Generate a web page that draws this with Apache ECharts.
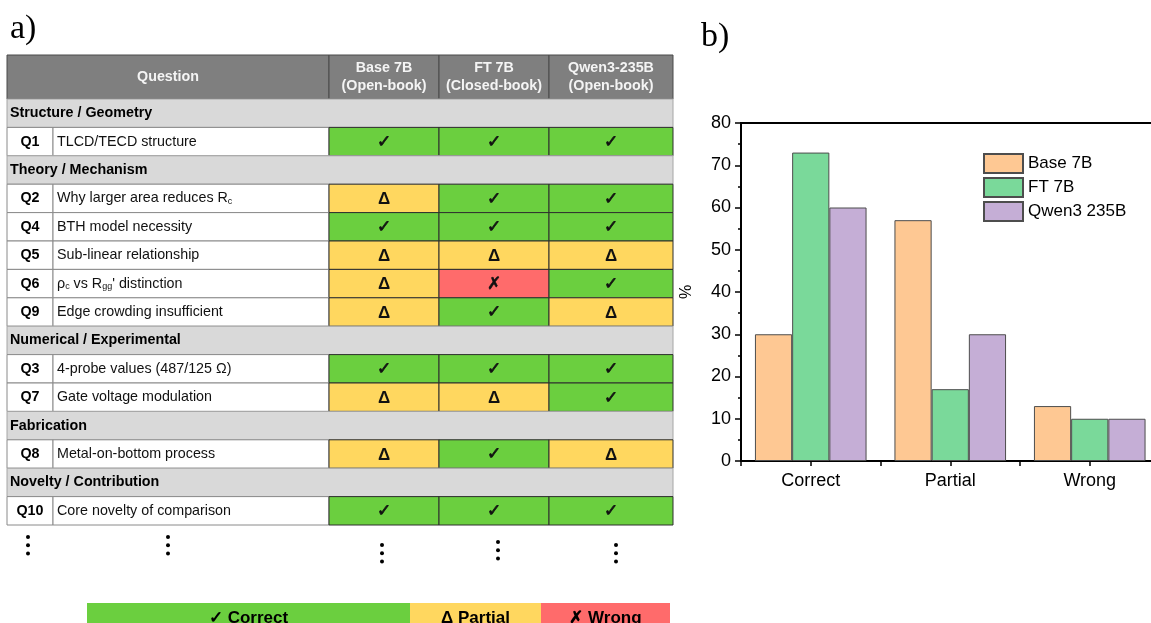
<!DOCTYPE html>
<html>
<head>
<meta charset="utf-8">
<script src="https://cdn.jsdelivr.net/npm/echarts@6/dist/echarts.min.js"></script>
<style>
  html, body { margin: 0; padding: 0; background: #fff; }
  #main { width: 1151px; height: 623px; }
</style>
</head>
<body>
<div id="main"></div>
<script>
// ---------- a) question-by-question outcome table ----------
const modelNames = ['Base 7B', 'FT 7B', 'Qwen3-235B'];
const modelModes = ['(Open-book)', '(Closed-book)', '(Open-book)'];

// '' in rowIds marks a topic row that spans the whole table
const rowIds = ['', 'Q1', '', 'Q2', 'Q4', 'Q5', 'Q6', 'Q9', '', 'Q3', 'Q7', '', 'Q8', '', 'Q10'];
const rowTexts = [
  'Structure / Geometry',
  'TLCD/TECD structure',
  'Theory / Mechanism',
  'Why larger area reduces R{s|c}',
  'BTH model necessity',
  'Sub-linear relationship',
  'ρ{s|c} vs R{s|gg}\' distinction',
  'Edge crowding insufficient',
  'Numerical / Experimental',
  '4-probe values (487/125 Ω)',
  'Gate voltage modulation',
  'Fabrication',
  'Metal-on-bottom process',
  'Novelty / Contribution',
  'Core novelty of comparison'
];
// C = correct, P = partial, W = wrong
const baseResults = ['', 'C', '', 'P', 'C', 'P', 'P', 'P', '', 'C', 'P', '', 'P', '', 'C'];
const ftResults   = ['', 'C', '', 'C', 'C', 'P', 'W', 'C', '', 'C', 'P', '', 'C', '', 'C'];
const qwenResults = ['', 'C', '', 'C', 'C', 'P', 'C', 'P', '', 'C', 'C', '', 'P', '', 'C'];

// ---------- b) share of outcomes per model ----------
const outcomeCats = ['Correct', 'Partial', 'Wrong'];
const barSeriesNames = ['Base 7B', 'FT 7B', 'Qwen3 235B'];
const baseShares = [30, 57, 13];
const ftShares   = [73, 17, 10];
const qwenShares = [60, 30, 10];

// ---------- layout & style ----------
const SANS = '"Liberation Sans", Arial, sans-serif';
const SERIF = '"Liberation Serif", "Times New Roman", serif';
const SYM = '"DejaVu Sans", sans-serif';
const FS = 14.3;                                  // table text size
const colEdges = [0, 46, 322, 432, 542, 666];   // table column boundaries (table units)
const tableWidth = 666;
const resultLook = {
  C: { fill: '#6bcf3f', mark: '✓', font: SYM, size: 17, stroke: 0.7 },
  P: { fill: '#ffd75f', mark: 'Δ', font: SANS, size: 17, stroke: 0 },
  W: { fill: '#ff6b6b', mark: '✗', font: SYM, size: 17, stroke: 0.5 }
};
const resultRows = [baseResults, ftResults, qwenResults];
const barColors = ['#fec893', '#7ad99a', '#c5aed6'];

function xAt(api, edge, row) { return api.coord([colEdges[edge], row])[0]; }

// header cells: 0 = "Question" (spans id + text columns), 1..3 = models
function renderHeader(params, api) {
  const c = api.value(0);
  const yc = api.coord([0, 0])[1];
  const h = api.size([0, 1])[1];
  const e0 = c === 0 ? 0 : c + 1;
  const e1 = c === 0 ? 2 : c + 2;
  const x0 = xAt(api, e0, 0), x1 = xAt(api, e1, 0);
  const label = c === 0 ? 'Question' : modelNames[c - 1] + '\n' + modelModes[c - 1];
  return {
    type: 'group',
    children: [
      { type: 'rect', shape: { x: x0, y: yc - h / 2, width: x1 - x0, height: h },
        style: { fill: '#7f7f7f', stroke: '#4a4a4a', lineWidth: 1 } },
      { type: 'text', style: { text: label, x: (x0 + x1) / 2, y: yc, align: 'center', verticalAlign: 'middle',
        fill: '#f4f4f4', fontFamily: SANS, fontWeight: 'bold', fontSize: FS, lineHeight: 18 } }
    ]
  };
}

function renderBody(params, api) {
  const c = api.value(0), r = api.value(1);
  const yc = api.coord([0, r])[1];
  const h = api.size([0, 1])[1];
  const top = yc - h / 2;
  if (rowIds[r] === '') {
    const x0 = xAt(api, 0, r), x1 = xAt(api, 5, r);
    return {
      type: 'group',
      children: [
        { type: 'rect', shape: { x: x0, y: top, width: x1 - x0, height: h },
          style: { fill: '#d9d9d9', stroke: '#a6a6a6', lineWidth: 1 } },
        { type: 'text', style: { text: rowTexts[r], x: x0 + 3, y: yc, align: 'left', verticalAlign: 'middle',
          fill: '#000', fontFamily: SANS, fontWeight: 'bold', fontSize: FS } }
      ]
    };
  }
  const x0 = xAt(api, c, r), x1 = xAt(api, c + 1, r);
  const rect = { x: x0, y: top, width: x1 - x0, height: h };
  if (c === 0) {
    return { type: 'group', children: [
      { type: 'rect', shape: rect, style: { fill: '#fff', stroke: '#8a8a8a', lineWidth: 1 } },
      { type: 'text', style: { text: rowIds[r], x: (x0 + x1) / 2, y: yc, align: 'center', verticalAlign: 'middle',
        fill: '#000', fontFamily: SANS, fontWeight: 'bold', fontSize: FS } }
    ] };
  }
  if (c === 1) {
    return { type: 'group', children: [
      { type: 'rect', shape: rect, style: { fill: '#fff', stroke: '#8a8a8a', lineWidth: 1 } },
      { type: 'text', style: { text: rowTexts[r], x: x0 + 4, y: yc, align: 'left', verticalAlign: 'middle',
        fill: '#111', fontFamily: SANS, fontSize: FS,
        rich: { s: { fontFamily: SANS, fontSize: 9, fill: '#111', padding: [6, 0, 0, 0] } } } }
    ] };
  }
  const look = resultLook[resultRows[c - 2][r]];
  return { type: 'group', children: [
    { type: 'rect', shape: rect, style: { fill: look.fill, stroke: '#2f2f2f', lineWidth: 1 } },
    { type: 'text', style: { text: look.mark, x: (x0 + x1) / 2, y: yc + 1, align: 'center', verticalAlign: 'middle',
      fill: '#111', stroke: look.stroke ? '#111' : null, lineWidth: look.stroke,
      fontFamily: look.font, fontWeight: 'bold', fontSize: look.size } }
  ] };
}

const headerData = [[0, 0], [1, 0], [2, 0], [3, 0]];
const bodyData = [];
rowIds.forEach((id, r) => {
  if (id === '') bodyData.push([0, r]);
  else for (let c = 0; c < 5; c++) bodyData.push([c, r]);
});

// small graphic helpers: vertical ellipsis, bottom key, panel tags
function vdots(x, y) {
  return [0, 1, 2].map(i => ({ type: 'circle', shape: { cx: x, cy: y + i * 8.3, r: 2 }, style: { fill: '#000' } }));
}
const keyItems = [
  { x: 87, w: 323, fill: '#6bcf3f', text: '✓ Correct' },
  { x: 410, w: 131, fill: '#ffd75f', text: 'Δ Partial' },
  { x: 541, w: 129, fill: '#ff6b6b', text: '✗ Wrong' }
];
const graphics = [
  { type: 'text', left: 10, top: 12, style: { text: 'a)', fontFamily: SERIF, fontSize: 34, fill: '#000' } },
  { type: 'text', left: 701, top: 20, style: { text: 'b)', fontFamily: SERIF, fontSize: 34, fill: '#000' } }
];
[[28, 537], [168, 537], [382, 545], [498, 542], [616, 545]].forEach(p => vdots(p[0], p[1]).forEach(d => graphics.push(d)));
keyItems.forEach(k => {
  graphics.push({ type: 'rect', shape: { x: k.x, y: 603, width: k.w, height: 30 }, style: { fill: k.fill } });
  graphics.push({ type: 'text', style: { text: k.text, x: k.x + k.w / 2, y: 618, align: 'center', verticalAlign: 'middle',
    fontFamily: SANS, fontWeight: 'bold', fontSize: 17, fill: '#000' } });
});

const chart = echarts.init(document.getElementById('main'));
const option = {
  animation: false,
  backgroundColor: '#fff',
  grid: [
    { left: 7, top: 55, width: 666, height: 44, outerBoundsMode: 'none' },
    { left: 7, top: 99, width: 666, height: 426, outerBoundsMode: 'none' },
    // the plot frame runs past the right edge of the page
    { left: 741, top: 123, width: 418.5, height: 338, outerBoundsMode: 'none',
      show: true, borderColor: '#000', borderWidth: 2 }
  ],
  xAxis: [
    { gridIndex: 0, type: 'value', min: 0, max: tableWidth, show: false },
    { gridIndex: 1, type: 'value', min: 0, max: tableWidth, show: false },
    { gridIndex: 2, type: 'category', data: outcomeCats, position: 'bottom',
      axisLine: { lineStyle: { color: '#000', width: 2 } },
      axisTick: { show: true, length: 5, lineStyle: { color: '#000', width: 1.5 } },
      axisLabel: { show: false } },
    { gridIndex: 2, type: 'category', data: outcomeCats, position: 'bottom',
      axisLine: { show: false },
      axisTick: { show: true, alignWithLabel: true, length: 5, lineStyle: { color: '#000', width: 1.5 } },
      axisLabel: { color: '#000', fontFamily: SANS, fontSize: 18, margin: 11 } }
  ],
  yAxis: [
    { gridIndex: 0, type: 'category', data: ['header'], show: false },
    { gridIndex: 1, type: 'category', data: rowIds.map((id, i) => id || 'topic' + i), inverse: true, show: false },
    { gridIndex: 2, type: 'value', min: 0, max: 80, interval: 10,
      name: '%', nameLocation: 'middle', nameGap: 46, nameRotate: 90,
      nameTextStyle: { color: '#000', fontFamily: SANS, fontSize: 16 },
      axisLine: { show: true, lineStyle: { color: '#000', width: 2 } },
      axisTick: { show: true, length: 6, lineStyle: { color: '#000', width: 1.5 } },
      minorTick: { show: true, splitNumber: 2, length: 3, lineStyle: { color: '#000', width: 1.5 } },
      splitLine: { show: false },
      axisLabel: { color: '#000', fontFamily: SANS, fontSize: 18, margin: 10 } }
  ],
  legend: {
    data: barSeriesNames,
    orient: 'vertical',
    left: 983, top: 153,
    padding: 0,
    itemWidth: 39, itemHeight: 19, itemGap: 3,
    icon: 'rect',
    textStyle: { color: '#000', fontFamily: SANS, fontSize: 17 }
  },
  series: [
    { type: 'custom', xAxisIndex: 0, yAxisIndex: 0, renderItem: renderHeader, data: headerData, silent: true },
    { type: 'custom', xAxisIndex: 1, yAxisIndex: 1, renderItem: renderBody, data: bodyData, silent: true },
    { name: barSeriesNames[0], type: 'bar', xAxisIndex: 2, yAxisIndex: 2, data: baseShares,
      barGap: '0%', barCategoryGap: '20%',
      itemStyle: { color: barColors[0], borderColor: '#4d4d4d', borderWidth: 1 } },
    { name: barSeriesNames[1], type: 'bar', xAxisIndex: 2, yAxisIndex: 2, data: ftShares,
      barGap: '0%', barCategoryGap: '20%',
      itemStyle: { color: barColors[1], borderColor: '#4d4d4d', borderWidth: 1 } },
    { name: barSeriesNames[2], type: 'bar', xAxisIndex: 2, yAxisIndex: 2, data: qwenShares,
      barGap: '0%', barCategoryGap: '20%',
      itemStyle: { color: barColors[2], borderColor: '#4d4d4d', borderWidth: 1 } }
  ],
  graphic: graphics
};
chart.setOption(option);
</script>
</body>
</html>
